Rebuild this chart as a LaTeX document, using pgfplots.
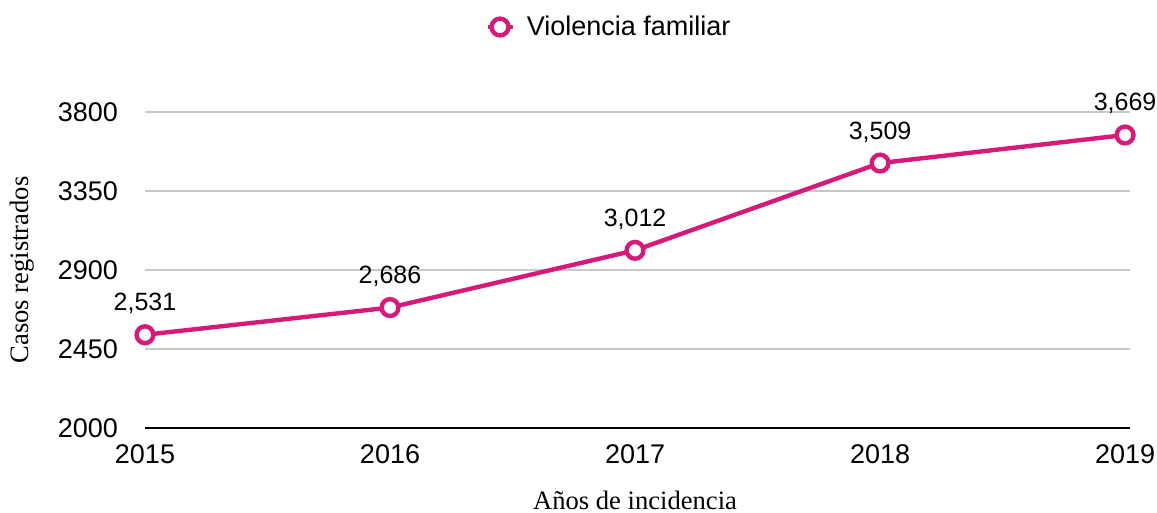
\documentclass[border=0pt]{standalone}
\usepackage{pgfplots}
\pgfplotsset{compat=1.18}
\usepackage{fontspec}
\setmainfont{Liberation Sans}
\newfontfamily\serifx{Liberation Serif}
\definecolor{mag}{RGB}{214,26,122}
\definecolor{gridc}{RGB}{200,200,200}
\begin{document}
\begin{tikzpicture}[x=0.5pt,y=0.5pt]
\useasboundingbox (-145,-85) rectangle (1012,428);
\begin{axis}[
  at={(0,0)}, anchor=south west,
  scale only axis, width=492.5pt, height=158pt,
  xmin=0, xmax=4.02, ymin=2000, ymax=3800,
  xtick={0,1,2,3,4}, xticklabels={2015,2016,2017,2018,2019},
  ytick={2000,2450,2900,3350,3800},
  axis x line*=bottom, axis y line*=left,
  x axis line style={black, line width=1pt, -},
  y axis line style={draw=none},
  ymajorgrids, grid style={gridc, line width=0.6pt},
  major tick length=0pt,
  tick label style={font=\fontsize{13.5}{16}\selectfont},
  /pgf/number format/assume math mode=true,
  yticklabel style={/pgf/number format/1000 sep={}, anchor=east, xshift=-10pt},
  xticklabel style={yshift=-5pt},
  xlabel={\serifx Años de incidencia},
  ylabel={\serifx Casos registrados},
  label style={font=\fontsize{13.3}{16}\selectfont},
  xlabel style={at={(axis description cs:0.4975,-0.2278)}, anchor=center},
  ylabel style={at={(axis description cs:-0.1249,0.5)}, anchor=center},
  legend style={draw=none, at={(axis description cs:0.476,1.269)}, anchor=center,
    font=\fontsize{13.5}{16}\selectfont,
    /tikz/every odd column/.append style={column sep=0pt},
    nodes={inner xsep=6pt}},
  legend image code/.code={\draw[mark repeat=2,mark phase=2,#1] plot coordinates {(0cm,0cm) (0.22cm,0cm) (0.44cm,0cm)};},
  clip=false,
  nodes near coords,
  nodes near coords style={font=\fontsize{12.5}{15}\selectfont, black, anchor=south, yshift=6pt,
    /pgf/number format/1000 sep={,}, /pgf/number format/assume math mode=true},
]
\addplot[mag, line width=2.2pt, mark=*, mark size=4.2pt, mark options={fill=white, draw=mag, line width=2.2pt}]
  coordinates {(0,2531) (1,2686) (2,3012) (3,3509) (4,3669)};
\addlegendentry{Violencia familiar}
\end{axis}
\end{tikzpicture}
\end{document}
